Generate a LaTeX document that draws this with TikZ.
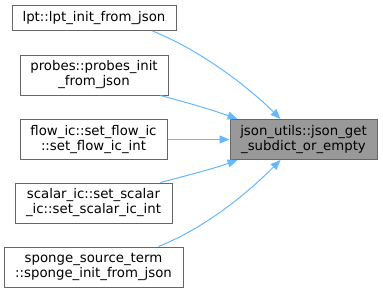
\documentclass[tikz,border=0pt]{standalone}
\usepackage{xcolor}
\usepackage{fontspec}
\usepackage{tikz}
\usetikzlibrary{arrows.meta, positioning, calc}
\newfontfamily\dvsans{DejaVu Sans}
\definecolor{edgeblue}{HTML}{63B8FF}
\definecolor{boxgrey}{HTML}{666666}
\definecolor{calleefill}{HTML}{999999}

\begin{document}
\begin{tikzpicture}[x=1pt, y=-1pt,
  fnbox/.style={rectangle, draw=boxgrey, line width=1pt, fill=white,
               inner xsep=4pt, inner ysep=1pt, minimum height=40pt,
               font=\dvsans\fontsize{13.3}{15}\selectfont, align=center},
  arr/.style={-{Triangle[length=10pt, width=8pt]}, draw=edgeblue, line width=1pt}
]
\useasboundingbox (0,0) rectangle (383,293);

%% ── Callers ─────────────────────────────────────────────────────────────
\node[fnbox, minimum width=164pt, minimum height=25pt] (lpt) at (94, 18)
  {lpt::lpt\_init\_from\_json};
\node[fnbox, minimum width=148pt] (probes) at (94, 75)      {probes::probes\_init\\\_from\_json};
\node[fnbox, minimum width=147pt] (flow)   at (93.5, 139.5) {flow\_ic::set\_flow\_ic\\::set\_flow\_ic\_int};
\node[fnbox, minimum width=157pt] (scalar) at (93.5, 203)   {scalar\_ic::set\_scalar\\\_ic::set\_scalar\_ic\_int};
\node[fnbox, minimum width=179pt] (sponge) at (93.5, 267)   {sponge\_source\_term\\::sponge\_init\_from\_json};

%% ── Callee ──────────────────────────────────────────────────────────────
\node[fnbox, fill=calleefill, minimum width=147pt] (target) at (303.5, 139.5)
  {json\_utils::json\_get\\\_subdict\_or\_empty};

%% ── Calls ───────────────────────────────────────────────────────────────
\draw[arr] ([xshift=-24pt]lpt.south east) .. controls +(50,20) and +(-30,-30) ..
  ([xshift=-23pt]target.north);
\draw[arr] ([xshift=-8pt]probes.south east) .. controls +(30,8) and +(-25,-9) ..
  ([xshift=8pt]target.north west);
\draw[arr] (flow.east) -- (target.west);
\draw[arr] ([xshift=-12pt]scalar.north east) .. controls +(30,-8) and +(-25,9) ..
  ([xshift=8pt]target.south west);
\draw[arr] ([xshift=-25pt]sponge.north east) .. controls +(50,-20) and +(-30,30) ..
  ([xshift=-23pt]target.south);

\end{tikzpicture}
\end{document}
